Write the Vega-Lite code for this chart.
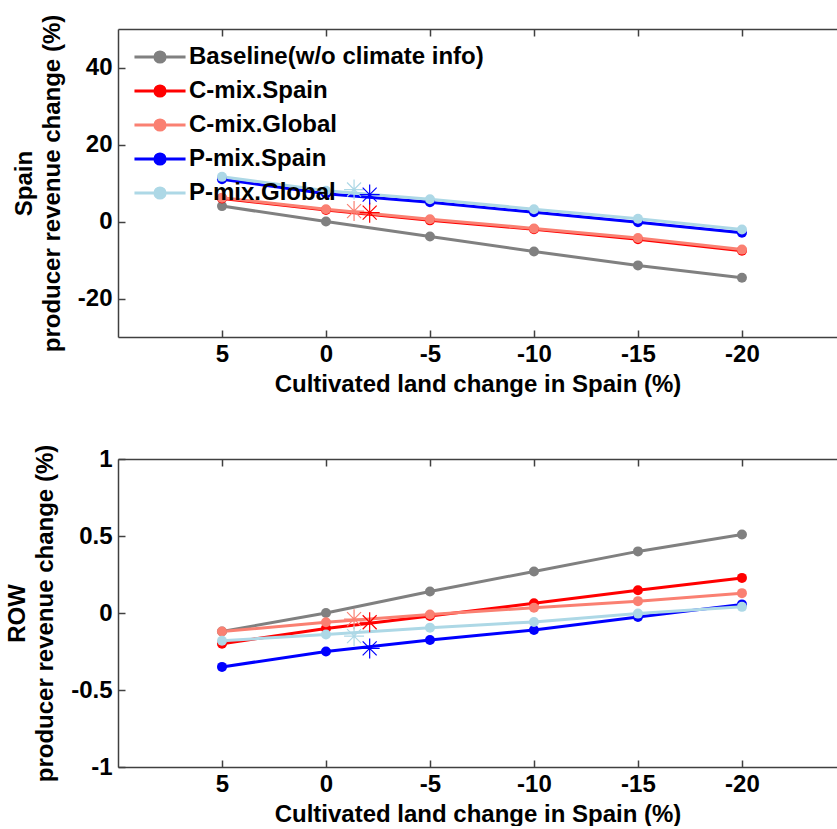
{
  "$schema": "https://vega.github.io/schema/vega-lite/v6.json",
  "background": "white",
  "padding": {"left": 5, "top": 14, "right": 0, "bottom": 0},
  "config": {
    "font": "Liberation Sans",
    "view": {"stroke": null},
    "axis": {
      "grid": false,
      "labelFont": "Liberation Sans",
      "labelFontSize": 24,
      "labelFontWeight": "bold",
      "labelColor": "black",
      "titleFont": "Liberation Sans",
      "titleFontSize": 24,
      "titleFontWeight": "bold",
      "titleColor": "black",
      "domainColor": "#404040",
      "domainWidth": 1.5,
      "tickColor": "#404040",
      "tickSize": -7,
      "tickWidth": 1.5
    }
  },
  "datasets": {
    "top": [
      {"series": "Baseline(w/o climate info)", "x": 5, "y": 4.0},
      {"series": "Baseline(w/o climate info)", "x": 0, "y": 0.0},
      {"series": "Baseline(w/o climate info)", "x": -5, "y": -3.9},
      {"series": "Baseline(w/o climate info)", "x": -10, "y": -7.8},
      {"series": "Baseline(w/o climate info)", "x": -15, "y": -11.4},
      {"series": "Baseline(w/o climate info)", "x": -20, "y": -14.6},
      {"series": "C-mix.Spain", "x": 5, "y": 6.0},
      {"series": "C-mix.Spain", "x": 0, "y": 3.0},
      {"series": "C-mix.Spain", "x": -5, "y": 0.3},
      {"series": "C-mix.Spain", "x": -10, "y": -2.0},
      {"series": "C-mix.Spain", "x": -15, "y": -4.6},
      {"series": "C-mix.Spain", "x": -20, "y": -7.6},
      {"series": "C-mix.Global", "x": 5, "y": 6.2},
      {"series": "C-mix.Global", "x": 0, "y": 3.2},
      {"series": "C-mix.Global", "x": -5, "y": 0.6},
      {"series": "C-mix.Global", "x": -10, "y": -1.8},
      {"series": "C-mix.Global", "x": -15, "y": -4.3},
      {"series": "C-mix.Global", "x": -20, "y": -7.3},
      {"series": "P-mix.Spain", "x": 5, "y": 11.0},
      {"series": "P-mix.Spain", "x": 0, "y": 7.2},
      {"series": "P-mix.Spain", "x": -5, "y": 5.0},
      {"series": "P-mix.Spain", "x": -10, "y": 2.4},
      {"series": "P-mix.Spain", "x": -15, "y": -0.2},
      {"series": "P-mix.Spain", "x": -20, "y": -2.9},
      {"series": "P-mix.Global", "x": 5, "y": 11.6},
      {"series": "P-mix.Global", "x": 0, "y": 8.0},
      {"series": "P-mix.Global", "x": -5, "y": 5.8},
      {"series": "P-mix.Global", "x": -10, "y": 3.2},
      {"series": "P-mix.Global", "x": -15, "y": 0.7},
      {"series": "P-mix.Global", "x": -20, "y": -2.1}
    ],
    "topStars": [
      {"series": "C-mix.Global", "x": -1.35, "y": 2.7},
      {"series": "C-mix.Spain", "x": -2.1, "y": 2.3},
      {"series": "P-mix.Global", "x": -1.35, "y": 8.3},
      {"series": "P-mix.Spain", "x": -2.1, "y": 7.0}
    ],
    "bottom": [
      {"series": "Baseline(w/o climate info)", "x": 5, "y": -0.12},
      {"series": "Baseline(w/o climate info)", "x": 0, "y": 0.0},
      {"series": "Baseline(w/o climate info)", "x": -5, "y": 0.14},
      {"series": "Baseline(w/o climate info)", "x": -10, "y": 0.27},
      {"series": "Baseline(w/o climate info)", "x": -15, "y": 0.40},
      {"series": "Baseline(w/o climate info)", "x": -20, "y": 0.51},
      {"series": "C-mix.Spain", "x": 5, "y": -0.20},
      {"series": "C-mix.Spain", "x": 0, "y": -0.10},
      {"series": "C-mix.Spain", "x": -5, "y": -0.02},
      {"series": "C-mix.Spain", "x": -10, "y": 0.063},
      {"series": "C-mix.Spain", "x": -15, "y": 0.148},
      {"series": "C-mix.Spain", "x": -20, "y": 0.228},
      {"series": "C-mix.Global", "x": 5, "y": -0.12},
      {"series": "C-mix.Global", "x": 0, "y": -0.06},
      {"series": "C-mix.Global", "x": -5, "y": -0.01},
      {"series": "C-mix.Global", "x": -10, "y": 0.034},
      {"series": "C-mix.Global", "x": -15, "y": 0.077},
      {"series": "C-mix.Global", "x": -20, "y": 0.129},
      {"series": "P-mix.Spain", "x": 5, "y": -0.35},
      {"series": "P-mix.Spain", "x": 0, "y": -0.25},
      {"series": "P-mix.Spain", "x": -5, "y": -0.175},
      {"series": "P-mix.Spain", "x": -10, "y": -0.11},
      {"series": "P-mix.Spain", "x": -15, "y": -0.026},
      {"series": "P-mix.Spain", "x": -20, "y": 0.056},
      {"series": "P-mix.Global", "x": 5, "y": -0.18},
      {"series": "P-mix.Global", "x": 0, "y": -0.14},
      {"series": "P-mix.Global", "x": -5, "y": -0.095},
      {"series": "P-mix.Global", "x": -10, "y": -0.058},
      {"series": "P-mix.Global", "x": -15, "y": -0.004},
      {"series": "P-mix.Global", "x": -20, "y": 0.04}
    ],
    "bottomStars": [
      {"series": "C-mix.Global", "x": -1.35, "y": -0.04},
      {"series": "C-mix.Spain", "x": -2.1, "y": -0.06},
      {"series": "P-mix.Global", "x": -1.35, "y": -0.15},
      {"series": "P-mix.Spain", "x": -2.1, "y": -0.23}
    ]
  },
  "spacing": 48,
  "vconcat": [
    {
      "width": 719,
      "height": 308,
      "layer": [
        {
          "mark": {"type": "rule", "color": "#222222", "strokeWidth": 1.5},
          "encoding": {"y": {"datum": 0, "type": "quantitative", "scale": {"domain": [-30, 50], "nice": false, "zero": false}}}
        },
        {
          "data": {"name": "top"},
          "mark": {"type": "line", "strokeWidth": 3, "point": {"filled": true, "size": 100, "opacity": 1}},
          "encoding": {
            "x": {"field": "x", "type": "quantitative", "scale": {"domain": [10, -24.57], "nice": false, "zero": false},
                  "axis": {"values": [5, 0, -5, -10, -15, -20], "labelExpr": "'' + datum.value", "title": "Cultivated land change in Spain (%)", "labelPadding": 12, "titlePadding": 6}},
            "y": {"field": "y", "type": "quantitative", "scale": {"domain": [-30, 50], "nice": false, "zero": false},
                  "axis": {"values": [-20, 0, 20, 40], "labelExpr": "'' + datum.value", "title": ["Spain", "producer revenue change (%)"], "titleLineHeight": 28, "labelPadding": 13, "titlePadding": 13}},
            "color": {"field": "series", "type": "nominal",
                      "scale": {"domain": ["Baseline(w/o climate info)", "C-mix.Spain", "C-mix.Global", "P-mix.Spain", "P-mix.Global"], "range": ["#808080", "#ff0000", "#fa8072", "#0000ff", "#add8e6"]},
                      "legend": {"orient": "none", "legendX": 30, "legendY": 16, "title": null, "padding": 0,
                                 "symbolType": "M-4,0H4M-0.8,0A0.8,0.8 0 1,1 0.8,0A0.8,0.8 0 1,1 -0.8,0Z",
                                 "symbolSize": 163, "symbolStrokeWidth": 3,
                                 "labelFont": "Liberation Sans", "labelFontSize": 24, "labelFontWeight": "bold", "labelColor": "black",
                                 "labelOffset": 17, "rowPadding": 10, "labelLimit": 400,
                                 "encode": {"symbols": {"update": {"fill": {"scale": "color", "field": "value"}, "stroke": {"scale": "color", "field": "value"}, "opacity": {"value": 1}}}}}}
          }
        },
        {
          "data": {"name": "topStars"},
          "mark": {"type": "point", "shape": "M-1,0H1M0,-1V1M-0.7,-0.7L0.7,0.7M-0.7,0.7L0.7,-0.7", "filled": false, "size": 400, "strokeWidth": 1.2, "opacity": 1},
          "encoding": {
            "x": {"field": "x", "type": "quantitative", "axis": {"orient": "top", "values": [5, 0, -5, -10, -15, -20], "labels": false, "title": null}},
            "y": {"field": "y", "type": "quantitative"},
            "color": {"field": "series", "type": "nominal"}
          }
        }
      ],
      "resolve": {"axis": {"x": "independent"}}
    },
    {
      "width": 719,
      "height": 308,
      "layer": [
        {
          "mark": {"type": "rule", "color": "#222222", "strokeWidth": 1.5},
          "encoding": {"y": {"datum": 0, "type": "quantitative", "scale": {"domain": [-1, 1], "nice": false, "zero": false}}}
        },
        {
          "data": {"name": "bottom"},
          "mark": {"type": "line", "strokeWidth": 3, "point": {"filled": true, "size": 100, "opacity": 1}},
          "encoding": {
            "x": {"field": "x", "type": "quantitative", "scale": {"domain": [10, -24.57], "nice": false, "zero": false},
                  "axis": {"values": [5, 0, -5, -10, -15, -20], "labelExpr": "'' + datum.value", "title": "Cultivated land change in Spain (%)", "labelPadding": 12, "titlePadding": 6}},
            "y": {"field": "y", "type": "quantitative", "scale": {"domain": [-1, 1], "nice": false, "zero": false},
                  "axis": {"values": [-1, -0.5, 0, 0.5, 1], "labelExpr": "'' + datum.value", "title": ["ROW", "producer revenue change (%)"], "titleLineHeight": 28, "labelPadding": 13, "titlePadding": 13}},
            "color": {"field": "series", "type": "nominal"}
          }
        },
        {
          "data": {"name": "bottomStars"},
          "mark": {"type": "point", "shape": "M-1,0H1M0,-1V1M-0.7,-0.7L0.7,0.7M-0.7,0.7L0.7,-0.7", "filled": false, "size": 400, "strokeWidth": 1.2, "opacity": 1},
          "encoding": {
            "x": {"field": "x", "type": "quantitative", "axis": {"orient": "top", "values": [5, 0, -5, -10, -15, -20], "labels": false, "title": null}},
            "y": {"field": "y", "type": "quantitative"},
            "color": {"field": "series", "type": "nominal"}
          }
        }
      ],
      "resolve": {"axis": {"x": "independent"}}
    }
  ]
}
